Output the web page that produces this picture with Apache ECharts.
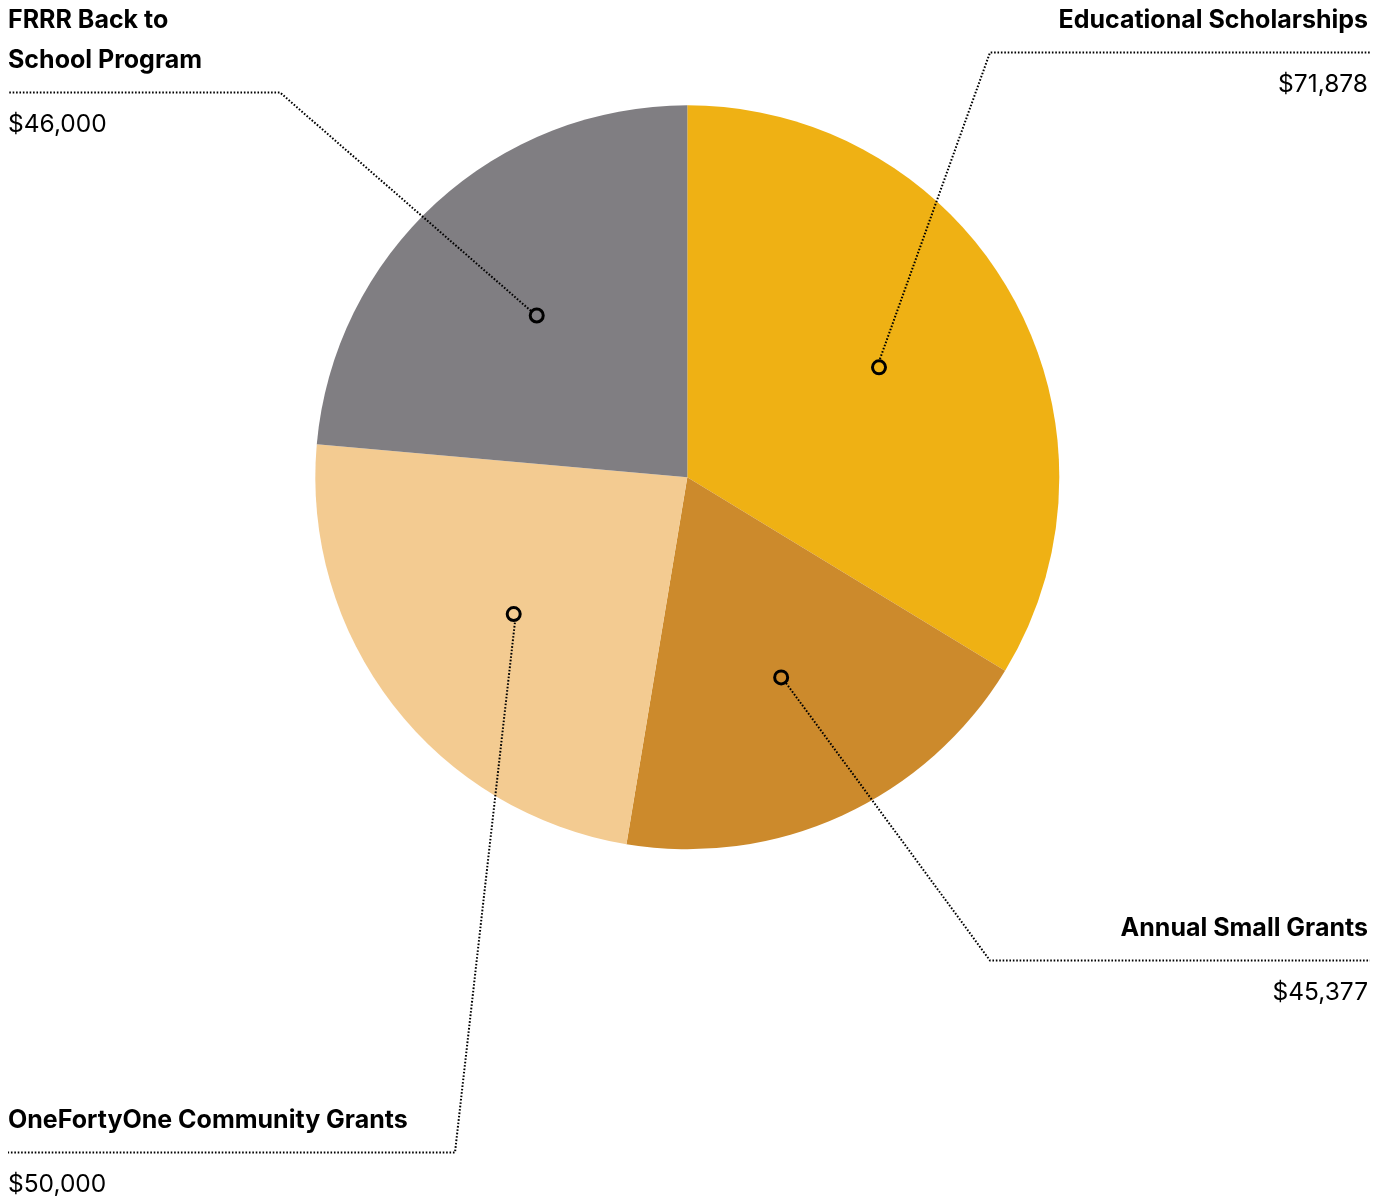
<!DOCTYPE html>
<html>
<head>
<meta charset="utf-8">
<script src="https://cdn.jsdelivr.net/npm/echarts@6/dist/echarts.min.js"></script>
<style>
html,body{margin:0;padding:0;background:#fff;}
#chart{width:1392px;height:1198px;}
</style>
</head>
<body>
<div id="chart"></div>
<script>
// ---- data ----
const categories = ['Educational Scholarships', 'Annual Small Grants', 'OneFortyOne Community Grants', 'FRRR Back to School Program'];
const labelNames = [['Educational Scholarships'], ['Annual Small Grants'], ['OneFortyOne Community Grants'], ['FRRR Back to', 'School Program']];
// amounts printed in the labels
const values = [71878, 45377, 50000, 46000];
// slice sizes as drawn in the picture
const sliceValues = [71878, 40340, 50770, 50290];
const colors = ['#EFB114', '#CC8A2C', '#F3CB91', '#807E82'];

// ---- layout (annotation placement) ----
const CX = 687.3, CY = 477.3, R = 372;
const MARK_R = 218;
const MARK_START = 90.5;
const labelPlacement = [
  { side: 'right', lineY: 52.5, kinkX: 990 },
  { side: 'right', lineY: 960.5, kinkX: 990 },
  { side: 'left', lineY: 1152.5, kinkX: 455 },
  { side: 'left', lineY: 92.5, kinkX: 280 }
];
const RIGHT_X = 1369, LEFT_X = 8;
const FONT = 'Inter, "Liberation Sans", Arial, sans-serif';

const seriesData = categories.map((c, i) => ({ name: c, value: sliceValues[i], itemStyle: { color: colors[i] } }));
const lineData = categories.map((c, i) => ({ name: c, value: sliceValues[i] }));
const markerData = categories.map((c, i) => ({
  name: c, value: sliceValues[i],
  label: { rich: { m: { width: 10, height: 10, borderRadius: 8, borderWidth: 3, borderColor: '#000', backgroundColor: colors[i] } } }
}));

function fmtMoney(v) { return '$' + v.toLocaleString('en-US'); }

const chart = echarts.init(document.getElementById('chart'), null, { renderer: 'canvas' });

chart.setOption({
  backgroundColor: '#ffffff',
  animation: false,
  tooltip: { show: false },
  series: [
    {
      type: 'pie',
      z: 1,
      center: [CX, CY],
      radius: R,
      startAngle: 90,
      clockwise: true,
      silent: true,
      emphasis: { disabled: true },
      label: { show: false },
      labelLine: { show: false },
      itemStyle: { borderWidth: 0 },
      data: seriesData
    },
    {
      // leader lines + labels
      type: 'pie',
      z: 3,
      center: [CX, CY],
      radius: [0, MARK_R],
      startAngle: MARK_START,
      clockwise: true,
      silent: true,
      avoidLabelOverlap: false,
      emphasis: { disabled: true },
      itemStyle: { color: 'rgba(0,0,0,0)', borderWidth: 0 },
      label: {
        show: true,
        position: 'outside',
        color: '#000',
        fontFamily: FONT,
        formatter: function (p) {
          const lines = labelNames[p.dataIndex].map(s => '{n|' + s + '}');
          return lines.join('\n') + '\n{v|' + fmtMoney(values[p.dataIndex]) + '}';
        },
        rich: {
          n: { fontFamily: FONT, fontSize: 25, fontWeight: 'bold', lineHeight: 40, color: '#000' },
          v: { fontFamily: FONT, fontSize: 24.5, fontWeight: 'normal', lineHeight: 88, color: '#000' }
        }
      },
      labelLine: {
        show: true,
        length: 20,
        length2: 20,
        lineStyle: { color: '#000', width: 2, type: [1.6, 1.8] }
      },
      labelLayout: function (p) {
        const i = p.dataIndex;
        const pl = labelPlacement[i];
        const nLines = labelNames[i].length;
        const right = pl.side === 'right';
        let start = p.labelLinePoints && p.labelLinePoints[0];
        if (!start) {
          let acc = 0; const tot = sliceValues.reduce((a, b) => a + b, 0);
          for (let k = 0; k < i; k++) acc += sliceValues[k];
          const mid = (MARK_START - (acc + sliceValues[i] / 2) / tot * 360) * Math.PI / 180;
          start = [CX + MARK_R * Math.cos(mid), CY - MARK_R * Math.sin(mid)];
        }
        const kink = [pl.kinkX, pl.lineY];
        const dx = kink[0] - start[0], dy = kink[1] - start[1];
        const d = Math.sqrt(dx * dx + dy * dy);
        const s = [start[0] + dx / d * 7, start[1] + dy / d * 7];
        return {
          x: right ? RIGHT_X - 1 : LEFT_X,
          y: pl.lineY - 12 - 40 * nLines,
          align: right ? 'right' : 'left',
          verticalAlign: 'top',
          labelLinePoints: [s, kink, [right ? RIGHT_X + 1 : LEFT_X, pl.lineY]]
        };
      },
      data: lineData
    },
    {
      // ring markers
      type: 'pie',
      z: 4,
      center: [CX, CY],
      radius: [MARK_R - 20, MARK_R + 20],
      startAngle: MARK_START,
      clockwise: true,
      silent: true,
      emphasis: { disabled: true },
      itemStyle: { color: 'rgba(0,0,0,0)', borderWidth: 0 },
      label: {
        show: true,
        position: 'inside',
        formatter: '{m|}',
        rich: {
          m: { width: 10, height: 10, borderRadius: 8, borderWidth: 3, borderColor: '#000' }
        }
      },
      labelLine: { show: false },
      data: markerData
    }
  ]
});
</script>
</body>
</html>
